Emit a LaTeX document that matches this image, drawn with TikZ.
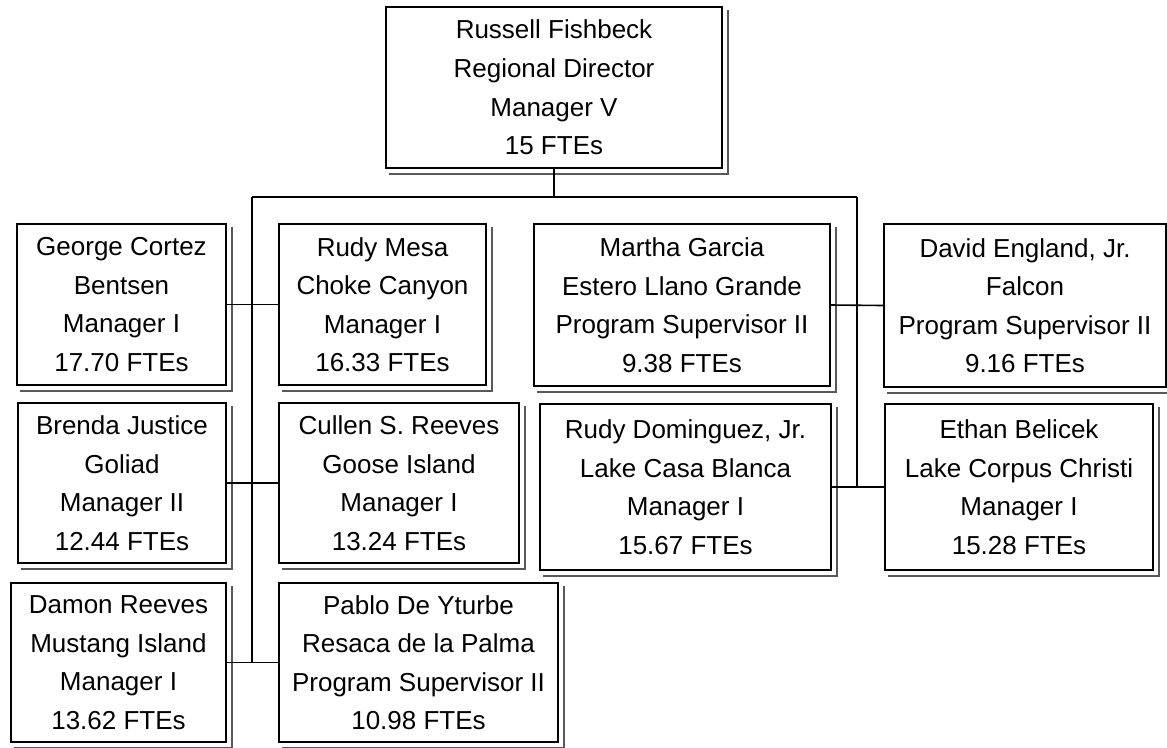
\documentclass[tikz,border=0pt]{standalone}
\usepackage{fontspec}
\setmainfont{Liberation Sans}
\begin{document}
\begin{tikzpicture}[x=0.75pt,y=-0.75pt,
  orgbox/.style={draw=black, line width=1.5pt, fill=white, inner sep=0pt, align=center,
    font=\fontsize{19.5}{28.9}\selectfont},
  link/.style={draw=black, line width=1.2pt},
  shade/.style={draw=black!65, line width=1.5pt}]
\useasboundingbox (0,0) rectangle (1167,747);
\fill[white] (0,0) rectangle (1167,747);

\node[orgbox, minimum width=252pt, minimum height=120.75pt] (top) at (554,87.5)
  {Russell Fishbeck\\Regional Director\\Manager V\\15 FTEs};

\node[orgbox, minimum width=156.75pt, minimum height=120.75pt] (george) at (121.5,304.5)
  {George Cortez\\Bentsen\\Manager I\\17.70 FTEs};
\node[orgbox, minimum width=155.25pt, minimum height=120.75pt] (rudym) at (382.5,304.5)
  {Rudy Mesa\\Choke Canyon\\Manager I\\16.33 FTEs};
\node[orgbox, minimum width=222pt, minimum height=121.5pt] (martha) at (682,305)
  {Martha Garcia\\Estero Llano Grande\\Program Supervisor II\\9.38 FTEs};
\node[orgbox, minimum width=211.5pt, minimum height=122.25pt] (david) at (1025,305.5)
  {David England, Jr.\\Falcon\\Program Supervisor II\\9.16 FTEs};

\node[orgbox, minimum width=156pt, minimum height=120pt] (brenda) at (122,483)
  {Brenda Justice\\Goliad\\Manager II\\12.44 FTEs};
\node[orgbox, minimum width=180pt, minimum height=120pt] (cullen) at (399,483)
  {Cullen S. Reeves\\Goose Island\\Manager I\\13.24 FTEs};
\node[orgbox, minimum width=218.25pt, minimum height=124.5pt] (rudyd) at (685.5,487)
  {Rudy Dominguez, Jr.\\Lake Casa Blanca\\Manager I\\15.67 FTEs};
\node[orgbox, minimum width=201pt, minimum height=124.5pt] (ethan) at (1019,487)
  {Ethan Belicek\\Lake Corpus Christi\\Manager I\\15.28 FTEs};

\node[orgbox, minimum width=161.25pt, minimum height=119.25pt] (damon) at (118.5,662.5)
  {Damon Reeves\\Mustang Island\\Manager I\\13.62 FTEs};
\node[orgbox, minimum width=209.25pt, minimum height=119.25pt] (pablo) at (418.5,662.5)
  {Pablo De Yturbe\\Resaca de la Palma\\Program Supervisor II\\10.98 FTEs};

% shadows (right and bottom)
\foreach \n in {top,george,rudym,martha,david,brenda,cullen,rudyd,ethan,damon,pablo}{
  \draw[shade] ([shift={(4.5,4)}]\n.north east) -- ([shift={(4.5,4.5)}]\n.south east)
     -- ([shift={(4,4.5)}]\n.south west);
}

% connectors
\coordinate (hl) at (252,197);
\coordinate (hr) at (857,197);
\draw[link] (top.south) -- (top.south |- hl);
\draw[link] (hl) -- (hr);
\draw[link] (hl) -- (hl |- pablo.west);
\draw[link] (hr) -- (hr |- ethan.west);
\draw[link] (george.east) -- (rudym.west);
\draw[link] (brenda.east) -- (cullen.west);
\draw[link] (damon.east) -- (pablo.west);
\draw[link] (martha.east) -- (david.west);
\draw[link] (rudyd.east) -- (ethan.west);
\end{tikzpicture}
\end{document}
